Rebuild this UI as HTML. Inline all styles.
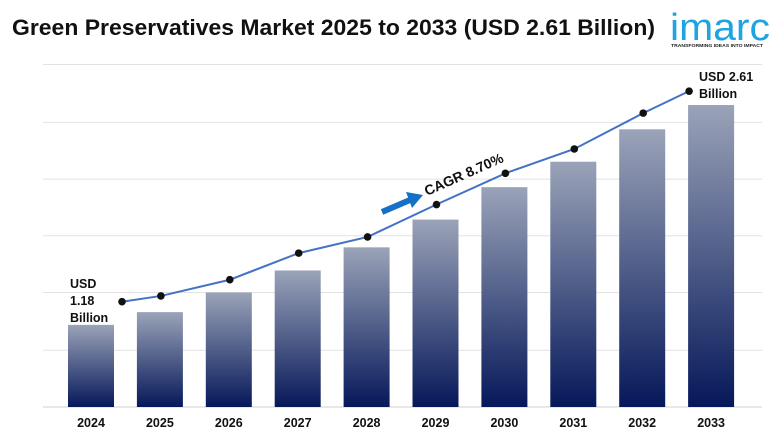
<!DOCTYPE html>
<html><head><meta charset="utf-8"><style>
body{margin:0;background:#fff;font-family:"Liberation Sans",sans-serif}
svg text{font-family:"Liberation Sans",sans-serif}
</style></head><body>
<svg width="780" height="440" viewBox="0 0 780 440">
<defs><linearGradient id="bg" x1="0" y1="0" x2="0" y2="1"><stop offset="0" stop-color="#9aa3b8"/><stop offset="1" stop-color="#06185a"/></linearGradient></defs>
<text x="12" y="35" font-size="22" font-weight="bold" fill="#111" textLength="643" lengthAdjust="spacingAndGlyphs">Green Preservatives Market 2025 to 2033 (USD 2.61 Billion)</text>
<g>
<text x="670" y="40" font-size="38" fill="#1ea3e3" textLength="100" lengthAdjust="spacingAndGlyphs">imarc</text>
<text x="671" y="47" font-size="4.8" font-weight="bold" fill="#222" textLength="92" lengthAdjust="spacingAndGlyphs">TRANSFORMING IDEAS INTO IMPACT</text>
</g>
<g id="grid"></g><g id="bars"></g><g id="line"></g><g id="labels"></g>
<g>
<line x1="382" y1="212" x2="410" y2="200" stroke="#1570c8" stroke-width="6"/>
<polygon points="406,192 423,195 412,208" fill="#1570c8"/>
<text x="0" y="0" font-size="14" font-weight="bold" fill="#111" transform="translate(427,196) rotate(-24)">CAGR 8.70%</text>
</g>
<text x="70" y="288" font-size="12.5" font-weight="bold" fill="#111"><tspan x="70">USD</tspan><tspan x="70" dy="17">1.18</tspan><tspan x="70" dy="17">Billion</tspan></text>
<text x="699" y="81" font-size="12.5" font-weight="bold" fill="#111"><tspan x="699">USD 2.61</tspan><tspan x="699" dy="17">Billion</tspan></text>
</svg>
<script>
const categories=["2024","2025","2026","2027","2028","2029","2030","2031","2032","2033"];
const barValues=[0.71,0.82,0.99,1.18,1.38,1.62,1.90,2.12,2.40,2.61];
const lineValues=[0.91,0.96,1.10,1.33,1.47,1.75,2.02,2.23,2.54,2.73];
const gridValues=[0,0.49,0.99,1.48,1.97,2.46,2.96];
const NS="http://www.w3.org/2000/svg";
const y=v=>407-v*115.7;
const xc=i=>91+i*68.9;
function mk(t,a,p){const e=document.createElementNS(NS,t);for(const k in a)e.setAttribute(k,a[k]);document.getElementById(p).appendChild(e);return e;}
gridValues.forEach(g=>{const e=mk('line',{x1:43,x2:762,y1:y(g),y2:y(g),stroke:g===0?'#d0d0d0':'#e2e2e2','stroke-width':1},'grid');

});
categories.forEach((c,i)=>{const b=mk('rect',{x:xc(i)-23,y:y(barValues[i]),width:46,height:407-y(barValues[i]),fill:'url(#bg)'},'bars');


const t=mk('text',{x:xc(i),y:427,'font-size':12.5,'font-weight':'bold','text-anchor':'middle',fill:'#111'},'labels');t.textContent=c;

});
const lx=i=>xc(i)+(i===0?31:i===categories.length-1?-22:1);
const pts=lineValues.map((v,i)=>lx(i)+','+y(v)).join(' ');
const pl=mk('polyline',{points:pts,fill:'none',stroke:'#4472c4','stroke-width':2},'line');


lineValues.forEach((v,i)=>{const d=mk('circle',{cx:lx(i),cy:y(v),r:3.8,fill:'#111'},'line');

});
</script>
</body></html>
